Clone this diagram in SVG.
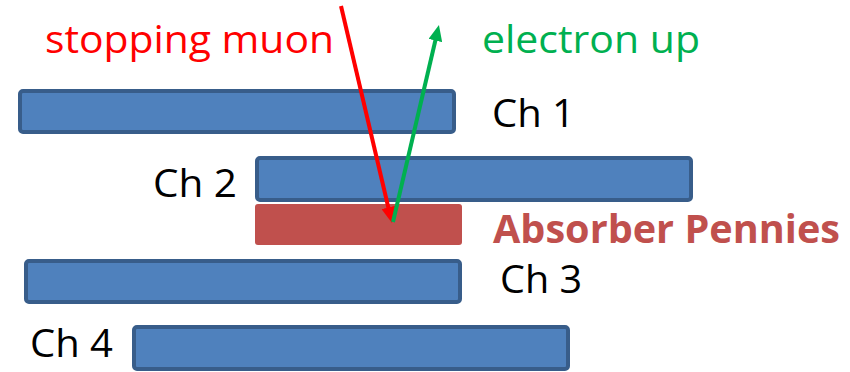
<svg xmlns="http://www.w3.org/2000/svg" width="850" height="372" viewBox="0 0 850 372">
  <defs>
    <style>
      .bar { fill: #4F81BD; stroke: #385D8A; stroke-width: 4; }
      .absorber { fill: #C0504D; }
      .label { font-family: "Open Sans", "Liberation Sans", sans-serif; font-size: 39px; fill: #000; }
      .muon-label { fill: #FF0000; }
      .electron-label { fill: #00B050; }
      .absorber-label { font-weight: bold; fill: #C0504D; }
      .track { stroke-width: 4; fill: none; }
    </style>
    <marker id="head-red" markerUnits="userSpaceOnUse" markerWidth="16" markerHeight="14" refX="6" refY="7" orient="auto">
      <path d="M0,0 L16,7 L0,14 z" fill="#FF0000"/>
    </marker>
    <marker id="head-green" markerUnits="userSpaceOnUse" markerWidth="16" markerHeight="14" refX="6" refY="7" orient="auto">
      <path d="M0,0 L16,7 L0,14 z" fill="#00B050"/>
    </marker>
  </defs>

  <rect width="850" height="372" fill="#FFFFFF"/>

  <g id="ch1">
    <rect class="bar" x="20" y="91" width="434" height="41" rx="3"/>
    <text class="label" x="492" y="127" textLength="83" lengthAdjust="spacingAndGlyphs">Ch 1</text>
  </g>

  <g id="ch2">
    <rect class="bar" x="257" y="158" width="434" height="42" rx="3"/>
    <text class="label" x="153" y="197" textLength="84" lengthAdjust="spacingAndGlyphs">Ch 2</text>
  </g>

  <g id="absorber">
    <rect class="absorber" x="255" y="204" width="207" height="41" rx="3"/>
    <text class="label absorber-label" x="493" y="243" textLength="347" lengthAdjust="spacingAndGlyphs">Absorber Pennies</text>
  </g>

  <g id="ch3">
    <rect class="bar" x="26" y="261" width="434" height="41" rx="3"/>
    <text class="label" x="500" y="293" textLength="82" lengthAdjust="spacingAndGlyphs">Ch 3</text>
  </g>

  <g id="ch4">
    <rect class="bar" x="134" y="327" width="434" height="42" rx="3"/>
    <text class="label" x="30" y="357" textLength="83" lengthAdjust="spacingAndGlyphs">Ch 4</text>
  </g>

  <g id="muon-label">
    <text class="label muon-label" x="45" y="53" textLength="289" lengthAdjust="spacingAndGlyphs">stopping muon</text>
  </g>

  <g id="electron-label">
    <text class="label electron-label" x="482" y="53" textLength="218" lengthAdjust="spacingAndGlyphs">electron up</text>
  </g>

  <g id="connectors">
    <line class="track" x1="341" y1="6" x2="389.7" y2="213.3" stroke="#FF0000" marker-end="url(#head-red)"/>
    <line class="track" x1="393" y1="222" x2="436.7" y2="34.7" stroke="#00B050" marker-end="url(#head-green)"/>
  </g>
</svg>
